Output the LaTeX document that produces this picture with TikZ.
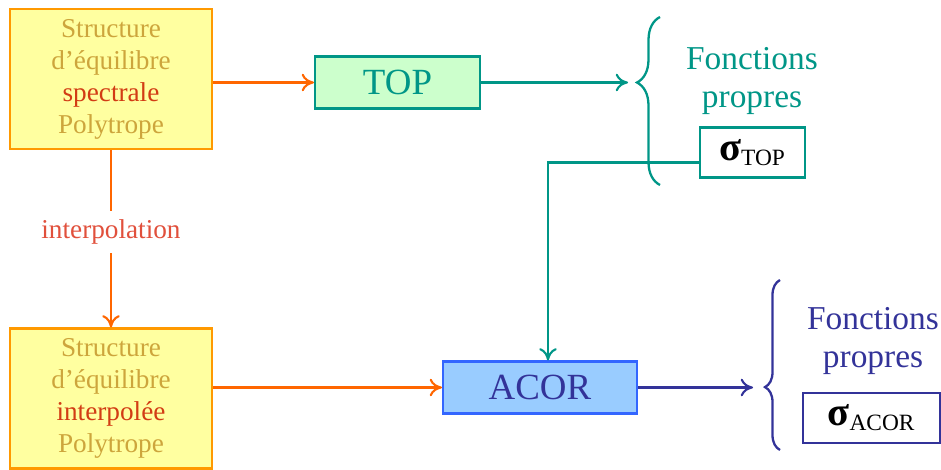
\documentclass[tikz,border=0pt]{standalone}
\usepackage{fontspec}
\setmainfont{Liberation Serif}
\usetikzlibrary{arrows.meta,decorations.pathreplacing,calc}
\definecolor{orangeline}{RGB}{255,102,0}
\definecolor{jauneboite}{RGB}{255,255,160}
\definecolor{bordjaune}{RGB}{255,153,0}
\definecolor{texteor}{RGB}{205,165,60}
\definecolor{texterouge}{RGB}{210,60,20}
\definecolor{interprouge}{RGB}{225,80,60}
\definecolor{sarcelle}{RGB}{0,150,135}
\definecolor{vertpale}{RGB}{204,255,204}
\definecolor{bleupale}{RGB}{153,204,255}
\definecolor{bleubord}{RGB}{51,102,255}
\definecolor{acorbleu}{RGB}{51,51,153}

\begin{document}
\begin{tikzpicture}[x=0.02cm,y=0.02cm,
    structbox/.style={draw=bordjaune,fill=jauneboite,line width=1.2pt,
      minimum width=4.04cm,minimum height=2.8cm,align=center,text=texteor,
      font=\fontsize{15.5}{18.2}\selectfont},
    codebox/.style={line width=1.2pt,minimum height=1.04cm,
      font=\fontsize{21}{24}\selectfont},
    sigbox/.style={draw,fill=white,line width=1.2pt,minimum height=1cm,
      text=black,font=\fontsize{19}{24}\selectfont},
    fonctext/.style={align=center,font=\fontsize{19}{21.6}\selectfont},
    fleche/.style={line width=1.2pt,-{To[length=7pt,width=10pt]}},
    accolade/.style={line width=1.3pt,decorate}]
    % 1 unite = 1 pixel de l'image (941 x 470)
    \useasboundingbox (0,0) rectangle (941,470);
    \node[structbox] (struct1) at (111,391)
      {Structure\\d'équilibre\\\textcolor{texterouge}{spectrale}\\Polytrope};
    \node[structbox] (struct2) at (111,71.5)
      {Structure\\d'équilibre\\\textcolor{texterouge}{interpolée}\\Polytrope};
    \node[codebox,draw=sarcelle,fill=vertpale,text=sarcelle,minimum width=3.3cm]
      (top) at (397.5,387.5){TOP};
    \node[codebox,draw=bleubord,fill=bleupale,text=acorbleu,minimum width=3.88cm]
      (acor) at (540,82.5){ACOR};
    \node[sigbox,draw=sarcelle,minimum width=2.1cm] (sigtop) at (752.5,317.5)
      {{\bfseries\fontsize{23}{24}\selectfont σ}\textsubscript{TOP}};
    \node[sigbox,draw=acorbleu,minimum width=2.74cm] (sigacor) at (871.5,52)
      {{\bfseries\fontsize{23}{24}\selectfont σ}\textsubscript{ACOR}};
    \node[fonctext,text=sarcelle] (fonctop) at (752,389){Fonctions\\propres};
    \node[fonctext,text=acorbleu] (foncacor) at (873,129){Fonctions\\propres};
    % accolades
    \coordinate (bas1) at (660,285);
    \coordinate (haut1) at (660,453);
    \coordinate (bas2) at (780,20);
    \coordinate (haut2) at (780,190);
    \draw[accolade,sarcelle,decoration={brace,amplitude=0.46cm,aspect=0.61}]
      (bas1) -- (haut1);
    \draw[accolade,acorbleu,decoration={brace,amplitude=0.3cm,aspect=0.37}]
      (bas2) -- (haut2);
    \coordinate (pointe1) at (628,387.5);
    \coordinate (pointe2) at (753,82.5);
    % fleches
    \draw[fleche,orangeline] (struct1.east |- top) -- (top.west);
    \draw[fleche,orangeline] (struct2.east |- acor) -- (acor.west);
    \draw[fleche,orangeline] (struct1) -- node[pos=0.46,fill=white,inner sep=5pt,
      text=interprouge,font=\fontsize{15.5}{18}\selectfont] (interp){interpolation}
      (struct2);
    \draw[fleche,sarcelle] (top.east) -- (pointe1);
    \draw[fleche,acorbleu] (acor.east) -- (pointe2);
    \draw[fleche,sarcelle] ([yshift=-0.2cm]sigtop.west) -| ([xshift=0.16cm]acor.north);
  \end{tikzpicture}
\end{document}
